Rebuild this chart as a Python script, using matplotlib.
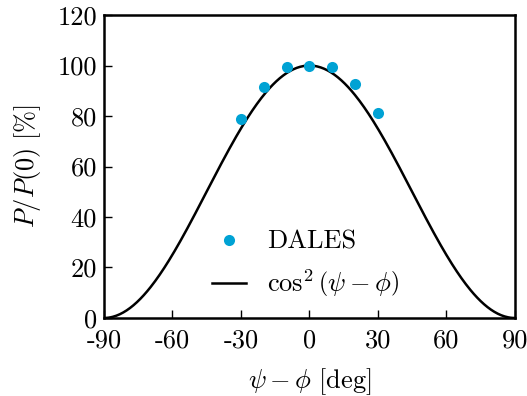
import matplotlib
matplotlib.use("Agg")
import matplotlib.pyplot as plt
import numpy as np

plt.rcParams["font.family"] = "serif"
plt.rcParams["font.serif"] = ["cmr10"]
plt.rcParams["mathtext.fontset"] = "cm"
plt.rcParams["axes.unicode_minus"] = False
plt.rcParams["axes.formatter.use_mathtext"] = True

# DALES relative power vs yaw misalignment
angle_dales = [-30, -20, -10, 0, 10, 20, 30]
power_dales = [78.8, 91.5, 99.3, 99.8, 99.3, 92.7, 81.2]

xticks = [-90, -60, -30, 0, 30, 60, 90]
yticks = [0, 20, 40, 60, 80, 100, 120]

# theoretical curve cos^2(psi - phi)
angle_model = np.linspace(-90, 90, 361)
power_model = 100 * np.cos(np.radians(angle_model)) ** 2

fig = plt.figure(figsize=(5.27, 3.96), dpi=100)
ax = fig.add_axes([0.197, 0.197, 0.78, 0.765])

ax.plot(angle_dales, power_dales, "o", color="#00a2d4", markersize=8,
        markeredgewidth=0, label="DALES", zorder=3)
ax.plot(angle_model, power_model, color="black", lw=1.8,
        label=r"$\cos^2\left(\psi-\phi\right)$")

ax.set_xlim(-90, 90)
ax.set_ylim(0, 120)
ax.set_xticks(xticks)
ax.set_xticklabels([str(t) for t in xticks])
ax.set_yticks(yticks)
ax.set_yticklabels([str(t) for t in yticks])
ax.tick_params(direction="in", length=6, width=1, labelsize=19,
               top=False, right=False, pad=5)
ax.tick_params(axis="x", pad=8)
for spine in ax.spines.values():
    spine.set_linewidth(1.8)

ax.set_xlabel(r"$\psi-\phi\ [\mathrm{deg}]$", fontsize=19, labelpad=10)
ax.set_ylabel(r"$P/P(0)\ [\%]$", fontsize=19, labelpad=10)

ax.legend(loc="lower center", frameon=False, fontsize=19, numpoints=1,
          handlelength=1.3, handletextpad=0.8, labelspacing=0.5,
          bbox_to_anchor=(0.49, -0.015))

fig.savefig("out.png", dpi=100, facecolor="white")
